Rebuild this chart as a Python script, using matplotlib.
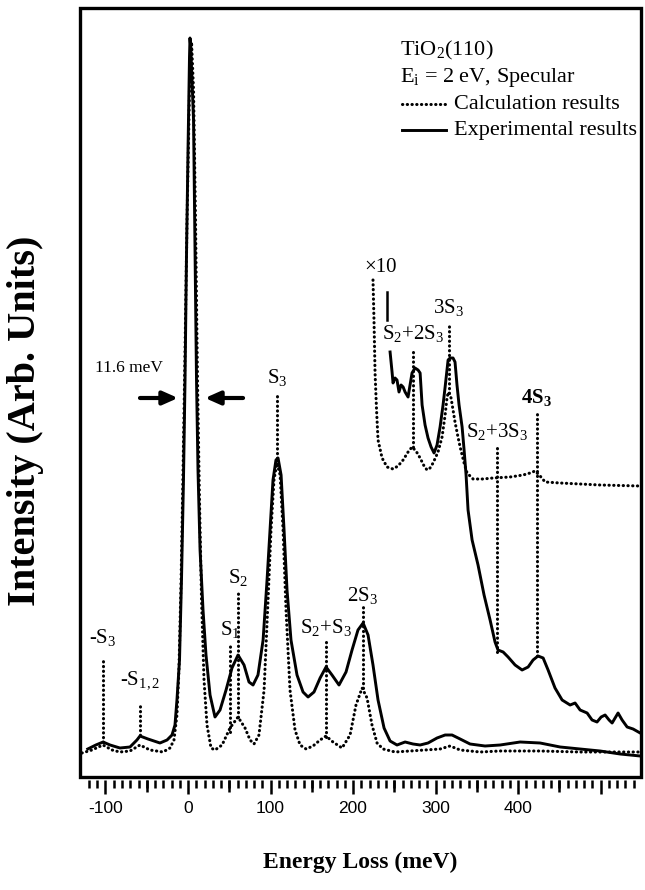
import matplotlib
matplotlib.use('Agg')
import matplotlib.pyplot as plt
from matplotlib.patches import Rectangle

plt.rcParams['font.family'] = ['Liberation Serif', 'DejaVu Serif']
plt.rcParams['mathtext.fontset'] = 'custom'
plt.rcParams['mathtext.rm'] = 'Liberation Serif'
plt.rcParams['mathtext.it'] = 'Liberation Serif:italic'
plt.rcParams['mathtext.bf'] = 'Liberation Serif:bold'

# ---------------- data (energy loss in meV, intensity in arb. units) ----------------
exp_E = [-121.5, -111.7, -102.9, -94.5, -82.5, -70.3, -61.9, -58.2, -48.5, -34.0, -25.4, -19.4, -15.8,
         -13.4, -10.3, -7.9, -5.5, -3.6, -1.9, 0.0, 1.8, 2.4, 3.3, 6.7, 8.5, 10.3, 12.1, 14.6, 18.2, 21.8,
         26.7, 32.7, 38.8, 46.1, 53.3, 60.6, 67.9, 73.9, 78.8, 84.8, 91.0, 95.8, 99.4, 103.0, 106.6, 109.1,
         112.8, 116.4, 120.0, 124.8, 132.1, 139.4, 145.5, 152.7, 160.1, 167.3, 174.5, 183.0, 191.5, 198.8,
         206.0, 212.2, 218.2, 224.2, 230.3, 237.6, 244.9, 253.3, 263.1, 272.7, 281.3, 290.9, 301.8, 311.6,
         320.0, 329.8, 341.8, 360.0, 378.3, 402.5, 426.7, 451.0, 475.2, 499.5, 523.7, 548]
exp_I = [28, 32, 35, 32, 29, 30, 37, 41, 38, 34, 37, 42, 52, 77, 117, 197, 297, 397, 517, 627, 720, 739,
         730, 657, 527, 397, 307, 227, 167, 122, 82, 60, 67, 87, 109, 122, 112, 95, 92, 102, 137, 197, 247,
         297, 317, 319, 302, 247, 187, 137, 102, 85, 80, 85, 99, 110, 102, 92, 105, 127, 147, 154, 142, 112,
         77, 49, 36, 32, 35, 33, 32, 34, 39, 42, 42, 38, 33, 31, 32, 35, 34, 30, 28, 26, 23, 21]

calc_E = [-128.5, -116.4, -103.0, -92.1, -82.5, -70.3, -58.2, -46.1, -30.3, -21.8, -17.0, -13.4, -11.0,
          -8.4, -6.0, -3.6, -1.2, 1.8, 4.3, 6.7, 9.1, 11.5, 13.9, 16.4, 19.4, 23.0, 27.9, 32.7, 41.3, 50.9,
          60.6, 69.1, 75.2, 80.0, 86.0, 92.2, 97.0, 100.6, 104.2, 107.8, 111.6, 115.2, 118.8, 123.6, 129.7,
          135.8, 143.1, 151.5, 160.1, 167.3, 175.7, 186.7, 196.4, 203.6, 211.0, 217.0, 223.0, 229.1, 236.4,
          250.9, 269.1, 287.3, 305.5, 317.6, 329.8, 354.0, 378.3, 426.7, 475.2, 548]
calc_I = [24, 27, 32, 27, 25, 26, 32, 27, 25, 29, 37, 62, 107, 197, 307, 427, 557, 687, 735, 687, 557,
          397, 277, 177, 97, 52, 29, 27, 32, 49, 60, 49, 37, 33, 42, 87, 177, 247, 297, 314, 302, 247, 167,
          87, 47, 32, 28, 31, 37, 41, 35, 29, 42, 72, 89, 79, 52, 34, 28, 25, 26, 27, 28, 31, 27, 25, 26,
          26, 25, 25]

# x10 magnified portions
calc10_E = [224.2, 225.4, 226.7, 228.5, 230.3, 235.2, 241.2, 248.5, 254.5, 260.7, 266.7, 271.5, 276.3,
            281.3, 286.1, 289.7, 293.3, 297.0, 303.0, 307.9, 311.6, 314.0, 315.7, 318.8, 321.2, 323.6,
            327.2, 329.8, 334.6, 338.2, 345.5, 357.6, 369.7, 390.3, 406.1, 414.6, 420.6, 426.7, 432.8,
            451.0, 499.5, 548]
calc10_I = [497, 457, 404, 367, 337, 319, 310, 308, 311, 317, 325, 330, 326, 319, 311, 307, 309, 314, 325,
            340, 362, 380, 385, 379, 367, 355, 340, 330, 314, 304, 298, 298, 299, 300, 302, 304, 306, 301,
            295, 294, 292, 291]

exp10_E = [244.9, 247.3, 248.5, 250.9, 253.3, 255.7, 258.2, 260.7, 263.1, 266.7, 269.1, 271.5, 275.1,
           278.8, 281.3, 283.7, 287.3, 290.9, 294.6, 298.2, 301.8, 305.5, 309.1, 311.6, 315.2, 317.6,
           321.2, 323.6, 326.0, 328.5, 332.2, 334.6, 337.0, 339.4, 344.3, 351.5, 358.8, 366.1, 372.1,
           375.7, 381.9, 387.9, 396.4, 404.9, 412.2, 418.2, 424.2, 430.4, 436.4, 444.8, 453.4, 463.1,
           469.1, 475.2, 483.7, 489.7, 495.7, 500.7, 505.5, 510.3, 514.0, 517.6, 521.2, 526.1, 532.2,
           539.4, 548]
exp10_I = [425, 405, 394, 399, 397, 385, 392, 390, 385, 380, 392, 404, 409, 407, 404, 372, 352, 339, 330,
           324, 332, 350, 372, 390, 417, 419, 419, 415, 392, 372, 350, 327, 302, 267, 237, 212, 182, 157,
           135, 127, 125, 120, 112, 107, 110, 117, 121, 119, 107, 89, 77, 72, 74, 67, 64, 57, 55, 60, 62,
           57, 54, 59, 64, 57, 50, 48, 44]

# mode assignment markers
mark_labels = ['-S$_3$', '-S$_{1,2}$', 'S$_1$', 'S$_2$', 'S$_3$', 'S$_2$+S$_3$', '2S$_3$',
               'S$_2$+2S$_3$', '3S$_3$', 'S$_2$+3S$_3$', r'4S$_\mathbf{3}$']
mark_E = [-102.9, -57.9, 50.7, 60.6, 107.7, 167.0, 211.9, 272.3, 316.1, 374.3, 422.6]
mark_top = [120, 74, 132, 184, 385, 135, 170, 425, 455, 330, 367]
mark_bot = [35, 42, 45, 60, 319, 40, 89, 330, 384, 125, 121]
mark_label_I = [140, 97, 147, 200, 400, 149, 182, 443, 469, 345, 379]
mark_bold = [False] * 10 + [True]

xtick_vals = [-100, 0, 100, 200, 300, 400, 500]
xtick_labels = ['-100', '0', '100', '200', '300', '400', '']
midtick_vals = [-50, 50, 150, 250, 350, 450]

# ---------------- figure ----------------
fig = plt.figure(figsize=(6.45, 8.9), dpi=100)
ax = fig.add_axes([80 / 645, 113 / 890, 561 / 645, 769 / 890])
ax.set_xlim(-130.9, 549)
ax.set_ylim(0, 769)

dot = dict(color='k', lw=2.2, linestyle=(0, (0.1, 1.45)), dash_capstyle='round')
sol = dict(color='k', lw=2.1, solid_joinstyle='round')

ax.plot(calc_E, calc_I, **dot)
ax.plot(exp_E, exp_I, **sol)
ax.plot(calc10_E, calc10_I, **dot)
ax.plot(exp10_E, exp10_I, **sol)

for e, t, b, lbl, li, bold in zip(mark_E, mark_top, mark_bot, mark_labels, mark_label_I, mark_bold):
    ax.plot([e, e], [b, t], **dot)
    ax.text(e, li, lbl, ha='center', va='center', fontsize=15,
            fontweight='bold' if bold else 'normal')

# x10 marker
ax.text(232.8, 509, '×10', ha='center', va='center', fontsize=15)
ax.plot([241.6, 241.6], [457, 485], color='k', lw=1.8)

# FWHM annotation
ax.text(-30.3, 409, '11.6 meV', ha='right', va='center', fontsize=12.5)
arw = dict(arrowstyle='-|>,head_length=0.9,head_width=0.4', lw=3, color='k',
           shrinkA=0, shrinkB=0, mutation_scale=10)
ax.annotate('', xy=(-12.1, 379), xytext=(-58.2, 379), arrowprops=arw)
ax.annotate('', xy=(20.6, 379), xytext=(66.7, 379), arrowprops=arw)

# legend block
tr = ax.transAxes
ax.text(0.570, 0.945, 'TiO$_2$(110)', transform=tr, ha='left', va='center', fontsize=16)
ax.text(0.570, 0.909, r'E$_\mathrm{i}$ = 2 eV, Specular', transform=tr, ha='left', va='center', fontsize=16)
ax.plot([0.574, 0.652], [0.875, 0.875], transform=tr, **dot)
ax.text(0.667, 0.875, 'Calculation results', transform=tr, ha='left', va='center', fontsize=16)
ax.plot([0.574, 0.652], [0.841, 0.841], transform=tr, **sol)
ax.text(0.667, 0.841, 'Experimental results', transform=tr, ha='left', va='center', fontsize=16)

# frame and axes
for s in ax.spines.values():
    s.set_visible(False)
ax.spines['bottom'].set_position(('outward', 2.5))
ax.add_patch(Rectangle((0, 0), 1, 1, transform=tr, fill=False, lw=2.4, color='k',
                       clip_on=False, zorder=5))
ax.set_yticks([])
ax.set_xticks(xtick_vals, xtick_labels, fontfamily='Liberation Sans', fontsize=12.5)
ax.set_xticks(range(-120, 541, 10), minor=True)
ax.tick_params(axis='x', which='major', direction='out', length=10, width=1.8, pad=5)
ax.tick_params(axis='x', which='minor', direction='out', length=6, width=1.8)
ax.tick_params(axis='y', left=False, right=False)

sec = ax.secondary_xaxis(-2.5 / 769)
sec.set_xticks(midtick_vals, ['' for _ in midtick_vals])
sec.tick_params(direction='out', length=8.5, width=1.8)
for s in sec.spines.values():
    s.set_visible(False)

ax.set_xlabel('Energy Loss (meV)', fontsize=17, fontweight='bold')
ax.xaxis.set_label_coords(0.5, -0.097)
ax.xaxis.label.set_va('top')
ax.set_ylabel('Intensity (Arb. Units)', fontsize=29, fontweight='bold')
ax.yaxis.set_label_coords(-0.064, 0.463)

fig.savefig('out.png', dpi=100)
